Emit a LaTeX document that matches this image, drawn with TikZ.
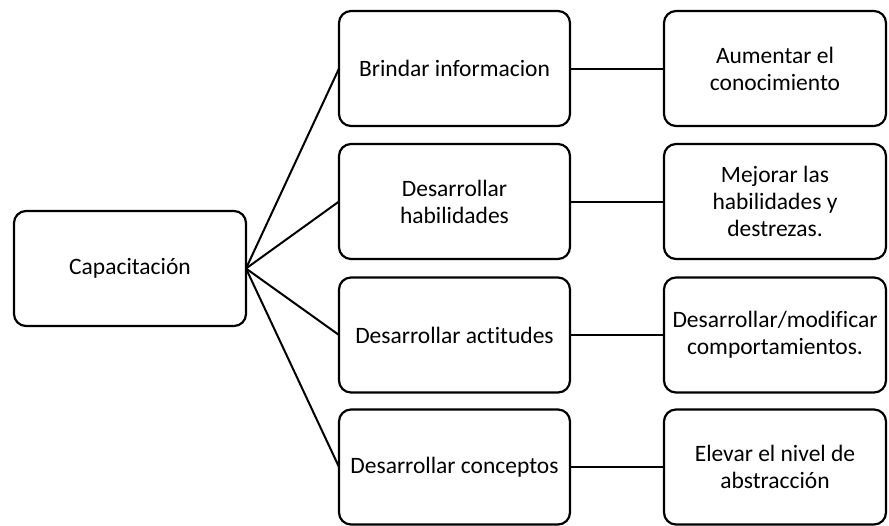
\documentclass[tikz,border=0pt]{standalone}
\usepackage{fontspec}
\setmainfont{Carlito}[Ligatures={NoCommon}]
\begin{document}
\begin{tikzpicture}[x=1pt,y=-1pt,
  box/.style={draw=black,line width=2.2pt,rounded corners=12pt,fill=white,
    inner sep=0pt,outer sep=0pt,align=center,
    font=\fontsize{23.5}{27}\selectfont},
  leftbox/.style={box,minimum width=232pt,minimum height=115pt},
  midbox/.style={box,minimum width=231pt,minimum height=115pt},
  rightbox/.style={box,minimum width=222pt,minimum height=115pt},
  link/.style={draw=black,line width=2pt}]
\useasboundingbox (0,0) rectangle (889,525);
\node[leftbox] (cap) at (130,268.5) {Capacitación};
\node[midbox] (m1) at (454.5,68.5) {Brindar informacion};
\node[midbox] (m2) at (454.5,201.5) {Desarrollar\\habilidades};
\node[midbox] (m3) at (454.5,335) {Desarrollar actitudes};
\node[midbox] (m4) at (454.5,467) {Desarrollar conceptos};
\node[rightbox] (r1) at (775,68.5) {Aumentar el\\conocimiento};
\node[rightbox] (r2) at (775,201.5) {Mejorar las\\habilidades y\\destrezas.};
\node[rightbox] (r3) at (775,335) {Desarrollar/modificar\\comportamientos.};
\node[rightbox] (r4) at (775,467) {Elevar el nivel de\\abstracción};
\foreach \i in {1,2,3,4}{
  \draw[link] (cap.east) -- (m\i.west);
  \draw[link] (m\i.east) -- (r\i.west);
}
\end{tikzpicture}
\end{document}
